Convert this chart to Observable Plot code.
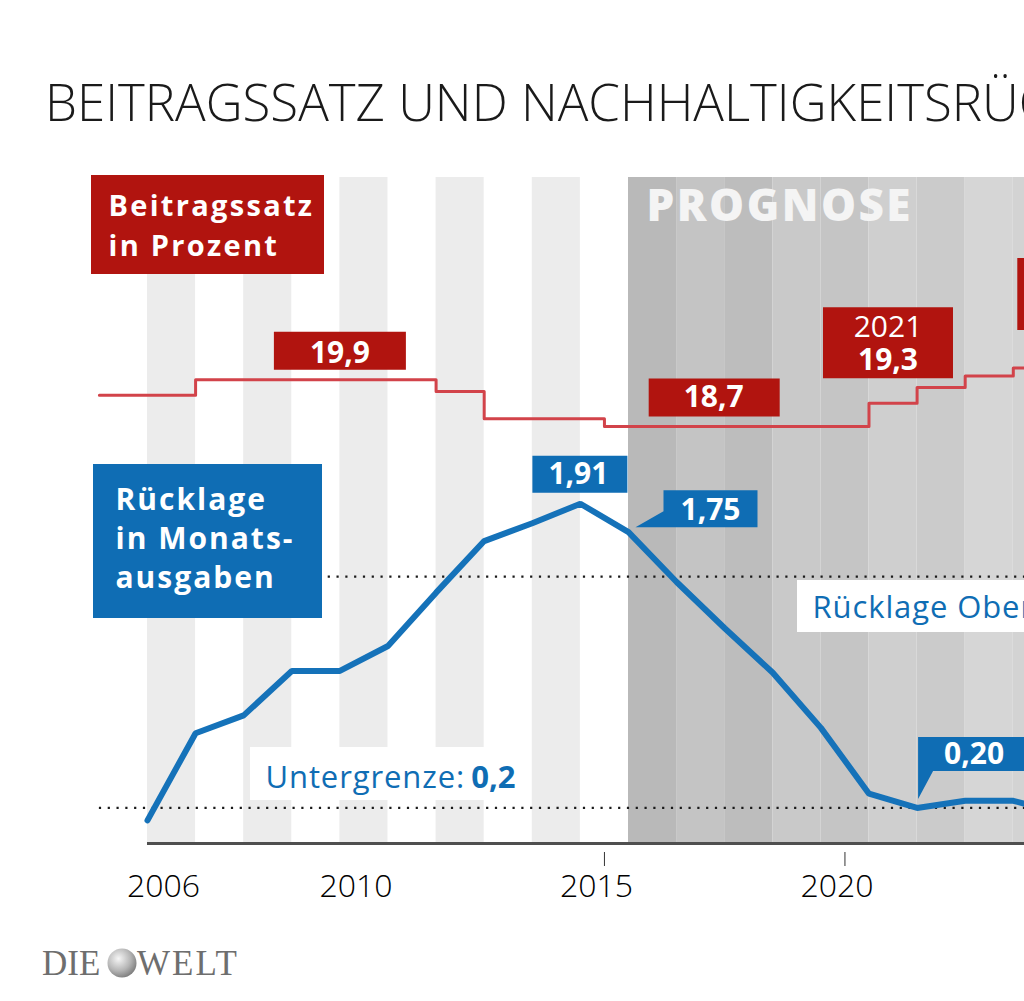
<!DOCTYPE html>
<html><head><meta charset="utf-8">
<script src="https://cdn.jsdelivr.net/npm/d3@7"></script>
<script src="https://cdn.jsdelivr.net/npm/@observablehq/plot@0.6"></script>
<style>
html,body{margin:0;padding:0;background:#fff;overflow:hidden;width:1024px;height:1001px;position:relative;}
#title{position:absolute;left:45px;top:76px;font-family:"Open Sans",sans-serif;font-weight:300;font-size:51px;line-height:51px;color:#1a1a1a;white-space:nowrap;}
#chart{position:absolute;left:0;top:150px;width:1024px;height:770px;overflow:hidden;}
#logo{position:absolute;left:40px;top:940px;}
</style></head><body>
<div id="title">BEITRAGSSATZ UND NACHHALTIGKEITSRÜCKLAGE</div>
<div id="chart"></div>
<svg id="logo" width="230" height="45">
  <defs><radialGradient id="gl" cx="38%" cy="35%" r="70%"><stop offset="0" stop-color="#f6f6f6"/><stop offset="0.6" stop-color="#b5b5b5"/><stop offset="1" stop-color="#7a7a7a"/></radialGradient></defs>
  <text x="2" y="35" font-family="Liberation Serif" font-size="35" fill="#6e6e6e">DIE</text>
  <circle cx="82" cy="23" r="14.5" fill="url(#gl)"/>
  <text x="97" y="35" font-family="Liberation Serif" font-size="35" fill="#6e6e6e" letter-spacing="2">WELT</text>
</svg>
<script>
// ---------- DATA ----------
const reserveYears  = [2006,2007,2008,2009,2010,2011,2012,2013,2014,2015,2016,2017,2018,2019,2020,2021,2022,2023,2024,2025];
const reserveValues = [0.13,0.62,0.72,0.97,0.97,1.11,1.41,1.70,1.80,1.91,1.75,1.47,1.21,0.96,0.65,0.28,0.20,0.24,0.24,0.17];
const rateFrom   = [2005,2007,2012,2013,2015.5,2021,2022,2023,2024,2025];
const rateValues = [19.5,19.9,19.6,18.9,18.7,19.3,19.7,20.0,20.2,20.2];
const lowerBound = 0.2;
const upperBound = 1.5;
const forecastStart = 2016;
const historicStripeYears = [2006,2008,2010,2012,2014];
const forecastYears = [2016,2017,2018,2019,2020,2021,2022,2023,2024];
const tickYears = [2006,2010,2015,2020];
const tickMarkYears = [2015,2020];
const rateLabels = [
  {key:"a", u:2010, v:19.9, text:"19,9"},
  {key:"b", u:2018, v:18.7, text:"18,7"},
  {key:"c", u:2021, v:19.3, text:"2021\n19,3"},
  {key:"d", u:2024, v:20.2, text:""}
];
const reserveLabels = [
  {key:"e", u:2015, v:1.91, text:"1,91"},
  {key:"f", u:2016, v:1.75, text:"1,75"},
  {key:"g", u:2022, v:0.20, text:"0,20"}
];

// ---------- STYLE / LAYOUT ----------
const W = 1024, H = 770, MB = 77, FH = H - MB;
const xDomain = [2002.944, 2024.233];
const yTop = 3.8954;
const py = d3.scaleLinear([0, yTop], [FH, 0]);           // px helper (mirrors Plot y)
const rateToY = d3.scaleLinear([18.7, 19.9], [2.344, 2.6065]); // secondary axis mapping
const forecastShades = ["#b9b9b9","#c4c4c4","#bdbdbd","#c9c9c9","#c5c5c5","#cfcfcf","#cbcbcb","#d6d6d6","#d3d3d3"];
const RED = "#b1140f", REDLINE = "#d2434a", BLUE = "#0f6db4", BLUELINE = "#1572b9";
const layout = {
  a:{box:[-66,-48,66,-10], dx:0,  dy:-17},
  b:{box:[-76,-48,55,-10], dx:-11, dy:-19},
  c:{box:[-46,-96,84,-25], dx:19, dy:-33},
  d:{box:[4,-110,140,-38], dx:70, dy:-50},
  e:{box:[-48,-48,47,-11], dx:-2, dy:-20},
  f:{box:[35,-42,129,-5], ptr:[[7,-5],[35,-21]], dx:82, dy:-12},
  g:{box:[1,-71,111,-37], ptr:[[16,-37],[1,-9]], dx:57, dy:-44}
};
const letterSpacings = {"Beitragssatzin Prozent":"2.3px", "Rücklagein Monats-ausgaben":"2px", "PROGNOSE":"2.5px", "Untergrenze:":"0.9px", "Rücklage Obergrenze: 1,5":"0.9px"};
function calloutSymbol(L){
  const [l,t,r,b] = L.box;
  return {draw(ctx){
    if (!L.ptr){ ctx.moveTo(l,t); ctx.lineTo(r,t); ctx.lineTo(r,b); ctx.lineTo(l,b); ctx.closePath(); return; }
    if (L.ptr[0][1] === b){ // pointer from bottom-left going left (1,75)
      ctx.moveTo(l,t); ctx.lineTo(r,t); ctx.lineTo(r,b); ctx.lineTo(L.ptr[0][0],b); ctx.lineTo(l,L.ptr[1][1]); ctx.closePath();
    } else { // pointer going down at left (0,20)
      ctx.moveTo(l,t); ctx.lineTo(r,t); ctx.lineTo(r,b); ctx.lineTo(L.ptr[0][0],b); ctx.lineTo(L.ptr[1][0],L.ptr[1][1]); ctx.closePath();
    }
  }};
}
function frameBox(left, top, right, bottom, fill){ // page-pixel box inside the chart svg
  return Plot.rect([0], {insetLeft:left, insetRight:W-right, insetTop:top-150, insetBottom:FH-(bottom-150), fill});
}

const reserve = reserveYears.map((u,i)=>({u, v:reserveValues[i]}));
const rate = rateFrom.map((u,i)=>({u, v:rateValues[i]}));

const marks = [
  Plot.rect(historicStripeYears, {x1:d=>d, x2:d=>d+1, insetTop:27, fill:"#ececec"}),
  Plot.rect(forecastYears, {x1:d=>d, x2:d=>d+1, insetTop:27, fill:(d,i)=>forecastShades[i]}),
  frameBox(250, 747, 530, 800, "white"),
  frameBox(797, 580, 1300, 632, "white"),
  Plot.ruleY([lowerBound, upperBound], {x1:2005, x2:xDomain[1], stroke:"#1a1a1a", strokeWidth:2.2, strokeDasharray:"2.2 6.6"}),
  Plot.ruleY([0], {x1:2006, x2:xDomain[1], stroke:"#4f4f4f", strokeWidth:3}),
  Plot.ruleX(tickMarkYears, {x:d=>d+0.5, y1:py.invert(702), y2:py.invert(716), stroke:"#333", strokeWidth:1}),
  Plot.text(tickYears, {x:d=>d+0.5, y:0, dy:53, dx:-8, text:d=>String(d), fontSize:32, fontWeight:300, fill:"#000", lineAnchor:"bottom"}),
  frameBox(91, 175, 324, 274, RED),
  frameBox(93, 464, 322, 618, BLUE),
  Plot.text(["Beitragssatz\nin Prozent"], {frameAnchor:"top-left", dx:108, dy:105, lineAnchor:"bottom", textAnchor:"start", fill:"white", fontWeight:700, fontSize:29, lineHeight:1.35}),
  Plot.text(["Rücklage\nin Monats-\nausgaben"], {frameAnchor:"top-left", dx:115, dy:437, lineAnchor:"bottom", textAnchor:"start", fill:"white", fontWeight:700, fontSize:30, lineHeight:1.285}),
  Plot.text(["PROGNOSE"], {x:forecastStart, frameAnchor:"top", dx:18, dy:70, lineAnchor:"bottom", textAnchor:"start", fill:"#f4f4f4", fontWeight:800, fontSize:44}),
  Plot.text([lowerBound], {frameAnchor:"left", y:d=>d, dx:265, dy:-20, text:()=>"Untergrenze:", lineAnchor:"bottom", textAnchor:"start", fill:BLUE, fontSize:31}),
  Plot.text([lowerBound], {frameAnchor:"left", y:d=>d, dx:515, dy:-20, text:d=>String(d).replace(".",","), lineAnchor:"bottom", textAnchor:"end", fill:BLUE, fontSize:31, fontWeight:700}),
  Plot.text([upperBound], {frameAnchor:"left", y:d=>d, dx:812, dy:41, text:d=>"Rücklage Obergrenze: "+String(d).replace(".",","), lineAnchor:"bottom", textAnchor:"start", fill:BLUE, fontSize:31}),
  Plot.line(rate, {x:"u", y:d=>rateToY(d.v), curve:"step-after", stroke:REDLINE, strokeWidth:3}),
  Plot.line(reserve, {x:"u", y:"v", stroke:BLUELINE, strokeWidth:6, strokeLinecap:"round", strokeLinejoin:"miter"})
];
for (const d of rateLabels){
  const L = layout[d.key];
  marks.push(Plot.dot([d], {x:"u", y:e=>rateToY(e.v), r:1, symbol:calloutSymbol(L), fill:RED, stroke:"none"}));
  if (d.key === "c"){
    const [yr, val] = d.text.split("\n");
    marks.push(Plot.text([d], {x:"u", y:e=>rateToY(e.v), text:()=>yr, dx:L.dx, dy:-66, lineAnchor:"bottom", fill:"white", fontSize:30, fontWeight:400}));
    marks.push(Plot.text([d], {x:"u", y:e=>rateToY(e.v), text:()=>val, dx:L.dx, dy:L.dy, lineAnchor:"bottom", fill:"white", fontSize:30, fontWeight:700}));
  } else if (d.text) {
    marks.push(Plot.text([d], {x:"u", y:e=>rateToY(e.v), text:"text", dx:L.dx, dy:L.dy, lineAnchor:"bottom", fill:"white", fontSize:30, fontWeight:700}));
  }
}
for (const d of reserveLabels){
  const L = layout[d.key];
  marks.push(Plot.dot([d], {x:"u", y:"v", r:1, symbol:calloutSymbol(L), fill:BLUE, stroke:"none"}));
  marks.push(Plot.text([d], {x:"u", y:"v", text:"text", dx:L.dx, dy:L.dy, lineAnchor:"bottom", fill:"white", fontSize:30, fontWeight:700}));
}

const chart = Plot.plot({
  width: W, height: H,
  marginLeft: 0, marginRight: 0, marginTop: 0, marginBottom: MB,
  style: {fontFamily: "'Open Sans', sans-serif", background: "transparent", overflow: "hidden"},
  x: {type:"linear", domain: xDomain, axis: null},
  y: {type:"linear", domain: [0, yTop], axis: null},
  color: {type: "identity"},
  marks
});
chart.querySelectorAll("text").forEach(t => {
  const ls = letterSpacings[t.textContent];
  if (ls) t.style.letterSpacing = ls;
});
document.getElementById("chart").appendChild(chart);
</script>
</body></html>
